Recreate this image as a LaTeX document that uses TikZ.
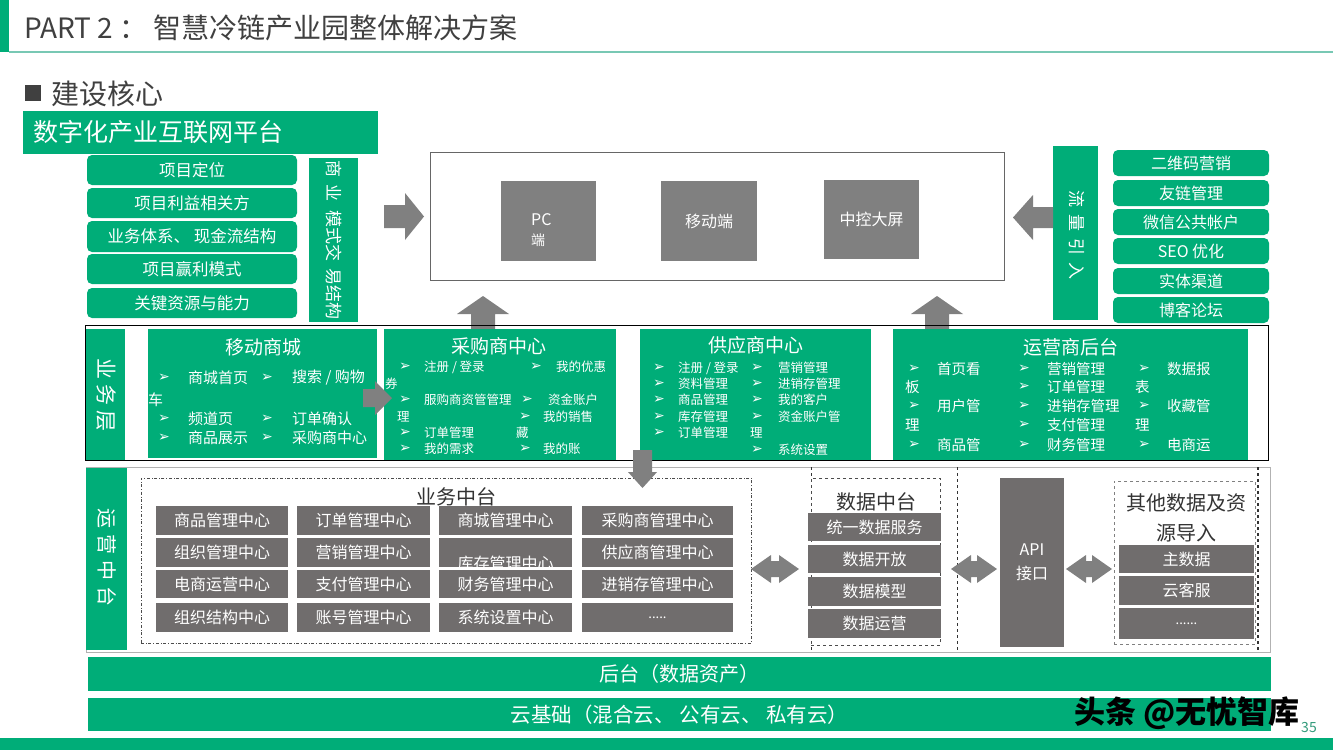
\documentclass[tikz,border=0pt]{standalone}
\usepackage{fontspec}
\setmainfont{Noto Sans CJK SC}
\newfontfamily\dvf{DejaVu Sans}
\definecolor{G}{RGB}{0,173,120}
\definecolor{AG}{RGB}{128,128,128}
\definecolor{BG}{RGB}{112,109,109}
\definecolor{TX}{RGB}{64,64,64}
\definecolor{HL}{RGB}{120,200,180}
\newcommand\fz[1]{\fontsize{#1}{#1}\selectfont}
\tikzset{
  gb/.style={fill=G,draw=none,text=white},
  rb/.style={fill=G,draw=none,text=white,rounded corners=5pt},
  gy/.style={fill=BG,draw=none,text=white},
  sg/.style={fill=AG,draw=none,text=white},
  wt/.style={text=white,inner sep=0pt},
  dk/.style={text=TX,inner sep=0pt},
}
% box: name, style, x1, y1, x2, y2, text
\newcommand\bx[7]{\node[#2,minimum width={#5-#3},minimum height={#6-#4},inner sep=0pt] (#1) at ({(#3+#5)/2},{(#4+#6)/2}) {#7};}
% bullet item: name, bullet x, text x, y, text, size
\newcommand\bi[6]{\node[wt,anchor=west,font=\dvf\fz{14}] (#1b) at (#2,#4) {➢};\node[wt,anchor=west,font=\fz{#6}] (#1) at (#3,#4) {#5};}
% plain white text: name, x, y, text, size
\newcommand\tw[5]{\node[wt,anchor=west,font=\fz{#5}] (#1) at (#2,#3) {#4};}
% double block arrow: x1, x2, yc
\newcommand\dbl[3]{\fill[AG] (#1,#3) -- ({#1+20},{#3-14}) -- ({#1+20},{#3-8}) -- ({#2-20},{#3-8}) -- ({#2-20},{#3-14}) -- (#2,#3) -- ({#2-20},{#3+14}) -- ({#2-20},{#3+8}) -- ({#1+20},{#3+8}) -- ({#1+20},{#3+14}) -- cycle;}
\begin{document}
\begin{tikzpicture}[x=1pt,y=-1pt]
\useasboundingbox (0,0) rectangle (1333,750);
\fill[white] (0,0) rectangle (1333,750);
% header
\fill[G] (0,0) rectangle (9,52);
\draw[HL,line width=1.5pt] (9,52) -- (1333,52);
\node[dk,anchor=west,font=\fz{28}] (title) at (24,28) {PART 2 ： 智慧冷链产业园整体解决方案};
\fill[TX] (25,85) rectangle (41,101);
\node[dk,anchor=west,font=\fz{28}] (core) at (51,94) {建设核心};
\bx{plat}{gb}{23}{111}{378}{154}{}
\node[wt,anchor=west,font=\fz{25}] (platt) at (33,132) {数字化产业互联网平台};
% left rounded boxes
\bx{l1}{rb,font=\fz{16.5}}{87}{155}{297}{185}{项目定位}
\bx{l2}{rb,font=\fz{16.5}}{87}{188}{297}{218}{项目利益相关方}
\bx{l3}{rb,font=\fz{16.5}}{87}{221}{297}{252}{业务体系、 现金流结构}
\bx{l4}{rb,font=\fz{16.5}}{87}{254}{297}{284}{项目赢利模式}
\bx{l5}{rb,font=\fz{16.5}}{87}{288}{297}{318}{关键资源与能力}
\bx{bm}{gb}{309}{158}{358}{322}{}
\node[wt,rotate=-90,font=\fz{17}] (bmt) at (334,240) {商\hspace{8pt}业\hspace{8pt}模式交\hspace{8pt}易结构};
% right rounded boxes
\bx{r0}{gb}{1053}{146}{1098}{320}{}
\node[wt,rotate=-90,font=\fz{17}] (r0t) at (1077,235) {流\hspace{7pt}量\hspace{7pt}引\hspace{7pt}入};
\bx{r1}{rb,font=\fz{16}}{1113}{150}{1269}{176}{二维码营销}
\bx{r2}{rb,font=\fz{16}}{1113}{180}{1269}{206}{友链管理}
\bx{r3}{rb,font=\fz{16}}{1113}{209}{1269}{235}{微信公共帐户}
\bx{r4}{rb,font=\fz{16}}{1113}{238}{1269}{264}{SEO 优化}
\bx{r5}{rb,font=\fz{16}}{1113}{268}{1269}{294}{实体渠道}
\bx{r6}{rb,font=\fz{16}}{1113}{297}{1269}{323}{博客论坛}
% screen box
\bx{scr}{draw=AG!80!black,line width=0.8pt}{430}{152}{1004}{280}{}
\bx{pc}{sg}{501}{181}{596}{261}{}
\node[wt,anchor=west,font=\fz{16}] (pct) at (531,220) {PC};
\node[wt,anchor=west,font=\fz{14}] (pct2) at (531,240) {端};
\bx{mob}{sg,font=\fz{16}}{661}{181}{757}{261}{移动端}
\bx{big}{sg,font=\fz{16}}{824}{180}{919}{259}{中控大屏}
% block arrows
\fill[AG] (384,205) -- (405,205) -- (405,193) -- (424,216.5) -- (405,240) -- (405,228) -- (384,228) -- cycle;
\fill[AG] (1053,207) -- (1033,207) -- (1033,195) -- (1013,217.5) -- (1033,240) -- (1033,228) -- (1053,228) -- cycle;
\fill[AG] (471,330) -- (471,314) -- (457,314) -- (483,296) -- (509,314) -- (495,314) -- (495,330) -- cycle;
\fill[AG] (925,330) -- (925,314) -- (911,314) -- (937,296) -- (963,314) -- (949,314) -- (949,330) -- cycle;
% business layer
\bx{bl}{draw=black,line width=0.7pt}{85}{325}{1268}{460}{}
\bx{bll}{gb}{86}{329}{125}{460}{}
\node[wt,rotate=-90,font=\fz{21}] (blt) at (106,395) {业\hspace{5pt}务\hspace{5pt}层};
\bx{m1}{gb}{148}{329}{377}{458}{}
\bx{m2}{gb}{384}{329}{616}{460}{}
\bx{m3}{gb}{640}{329}{871}{460}{}
\bx{m4}{gb}{893}{329}{1248}{460}{}
% 移动商城
\node[wt,font=\fz{19}] (m1t) at (263,347) {移动商城};
\bi{a1}{158}{188}{378}{商城首页}{15}
\bi{a2}{261}{292}{378}{搜索 / 购物}{15}
\tw{a3}{148}{400}{车}{15}
\bi{a4}{158}{188}{419}{频道页}{15}
\bi{a5}{261}{292}{419}{订单确认}{15}
\bi{a6}{158}{188}{438}{商品展示}{15}
\bi{a7}{261}{292}{438}{采购商中心}{15}
% 采购商中心
\node[wt,font=\fz{19}] (m2t) at (499,346) {采购商中心};
\bi{b1}{399}{424}{367}{注册 / 登录}{12.5}
\bi{b2}{530}{556}{367}{我的优惠}{12.5}
\tw{b3}{385}{384}{券}{12.5}
\bi{b4}{399}{424}{400}{服购商资管管理}{12.5}
\bi{b5}{521}{548}{400}{资金账户}{12.5}
\tw{b6}{397}{417}{理}{12.5}
\bi{b7}{519}{543}{417}{我的销售}{12.5}
\tw{b8}{516}{433}{藏}{12.5}
\bi{b9}{399}{424}{433}{订单管理}{12.5}
\bi{b10}{399}{424}{449}{我的需求}{12.5}
\bi{b11}{519}{543}{449}{我的账}{12.5}
% 供应商中心
\node[wt,font=\fz{19}] (m3t) at (756,345) {供应商中心};
\bi{c1}{653}{678}{368}{注册 / 登录}{12.5}
\bi{c2}{653}{678}{384}{资料管理}{12.5}
\bi{c3}{653}{678}{400}{商品管理}{12.5}
\bi{c4}{653}{678}{417}{库存管理}{12.5}
\bi{c5}{653}{678}{433}{订单管理}{12.5}
\bi{c6}{751}{778}{368}{营销管理}{12.5}
\bi{c7}{751}{778}{384}{进销存管理}{12.5}
\bi{c8}{751}{778}{400}{我的客户}{12.5}
\bi{c9}{751}{778}{417}{资金账户管}{12.5}
\tw{c10}{750}{433}{理}{12.5}
\bi{c11}{751}{778}{450}{系统设置}{12.5}
% 运营商后台
\node[wt,font=\fz{19}] (m4t) at (1071,347) {运营商后台};
\bi{d1}{908}{937}{369}{首页看}{14.5}
\tw{d2}{905}{387}{板}{14.5}
\bi{d3}{908}{937}{406}{用户管}{14.5}
\tw{d4}{905}{425}{理}{14.5}
\bi{d5}{908}{937}{445}{商品管}{14.5}
\bi{d6}{1018}{1047}{369}{营销管理}{14.5}
\bi{d7}{1018}{1047}{387}{订单管理}{14.5}
\bi{d8}{1018}{1047}{406}{进销存管理}{14.5}
\bi{d9}{1018}{1047}{425}{支付管理}{14.5}
\bi{d10}{1018}{1047}{445}{财务管理}{14.5}
\bi{d11}{1138}{1167}{369}{数据报}{14.5}
\tw{d12}{1135}{387}{表}{14.5}
\bi{d13}{1138}{1167}{406}{收藏管}{14.5}
\tw{d14}{1135}{425}{理}{14.5}
\bi{d15}{1138}{1167}{445}{电商运}{14.5}
% small arrow between 移动商城 and 采购商中心
\fill[AG] (363,389) -- (375,389) -- (375,381) -- (392,398) -- (375,415) -- (375,407) -- (363,407) -- cycle;
% operation middle platform
\bx{op}{draw=black!30,line width=0.8pt}{86}{467}{1270}{652}{}
\bx{opl}{gb}{86}{468}{127}{650}{}
\node[wt,rotate=-90,font=\fz{20}] (opt) at (107,557) {运\hspace{6pt}营\hspace{6pt}中\hspace{6pt}台};
\bx{bz}{draw=black!70,dash dot,line width=0.7pt}{141}{478}{751}{643}{}
\node[dk,font=\fz{20},text=black!80] (bzt) at (456,497) {业务中台};
\bx{g11}{gy,font=\fz{16}}{156}{506}{288}{535}{商品管理中心}
\bx{g12}{gy,font=\fz{16}}{297}{506}{430}{535}{订单管理中心}
\bx{g13}{gy,font=\fz{16}}{439}{506}{572}{535}{商城管理中心}
\bx{g14}{gy,font=\fz{16}}{582}{506}{733}{535}{采购商管理中心}
\bx{g21}{gy,font=\fz{16}}{156}{538}{288}{567}{组织管理中心}
\bx{g22}{gy,font=\fz{16}}{297}{538}{430}{567}{营销管理中心}
\bx{g23}{gy}{439}{538}{572}{567}{}
\node[wt,font=\fz{16}] (g23t) at (505.5,563) {库存管理中心};
\bx{g24}{gy,font=\fz{16}}{582}{538}{733}{567}{供应商管理中心}
\bx{g31}{gy,font=\fz{16}}{156}{570}{288}{598}{电商运营中心}
\bx{g32}{gy,font=\fz{16}}{297}{570}{430}{598}{支付管理中心}
\bx{g33}{gy,font=\fz{16}}{439}{570}{572}{598}{财务管理中心}
\bx{g34}{gy,font=\fz{16}}{582}{570}{733}{598}{进销存管理中心}
\bx{g41}{gy,font=\fz{16}}{156}{603}{288}{632}{组织结构中心}
\bx{g42}{gy,font=\fz{16}}{297}{603}{430}{632}{账号管理中心}
\bx{g43}{gy,font=\fz{16}}{439}{603}{572}{632}{系统设置中心}
\bx{g44}{gy,font=\fz{13}}{582}{603}{733}{632}{.....}
% down arrow from 供应商中心
\fill[AG] (633,450) -- (652,450) -- (652,472) -- (657,472) -- (642.5,488) -- (628,472) -- (633,472) -- cycle;
% data middle platform
\draw[black!80,dashed,line width=0.7pt] (811,467) -- (811,651);
\draw[black!80,dashed,line width=0.7pt] (957,467) -- (957,651);
\draw[black!80,dashed,line width=1.2pt] (1258,467) -- (1258,651);
\bx{dz}{draw=black!70,dashed,line width=0.7pt}{811}{478}{940}{645}{}
\node[dk,font=\fz{20},text=black!80] (dzt) at (876,502) {数据中台};
\bx{e1}{gy,font=\fz{16}}{808}{513}{941}{541}{统一数据服务}
\bx{e2}{gy,font=\fz{16}}{808}{545}{941}{573}{数据开放}
\bx{e3}{gy,font=\fz{16}}{808}{577}{941}{606}{数据模型}
\bx{e4}{gy,font=\fz{16}}{808}{609}{941}{638}{数据运营}
\bx{api}{gy}{1000}{478}{1064}{647}{}
\node[wt,font=\fz{16}] (apit) at (1032,550) {API};
\node[wt,font=\fz{16}] (apit2) at (1032,573) {接口};
\bx{oz}{draw=black!50,dashed,line width=0.7pt}{1114}{481}{1255}{644}{}
\node[dk,font=\fz{20},text=black!80] (ozt) at (1186,503) {其他数据及资};
\node[dk,font=\fz{20},text=black!80] (ozt2) at (1186,533) {源导入};
\bx{f1}{gy,font=\fz{16}}{1119}{545}{1254}{573}{主数据}
\bx{f2}{gy,font=\fz{16}}{1119}{576}{1254}{605}{云客服}
\bx{f3}{gy,font=\fz{13}}{1119}{608}{1254}{639}{......}
\dbl{751}{799}{569}
\dbl{951}{997}{569}
\dbl{1066}{1112}{569}
% bottom bars
\bx{bk}{gb,font=\fz{20}}{88}{657}{1271}{691}{后台（数据资产）}
\bx{cl}{gb,font=\fz{20.5}}{88}{698}{1271}{731}{云基础（混合云、 公有云、 私有云）}
\fill[G] (0,738) rectangle (1333,750);
\node[font=\fz{14},text=G!60!gray,inner sep=0pt] (pg) at (1309,727) {35};
% watermark
\node[font=\bfseries\fz{31},text=black,inner sep=0pt] (wm) at (1187,713) {头条 @无忧智库};
\end{tikzpicture}
\end{document}
